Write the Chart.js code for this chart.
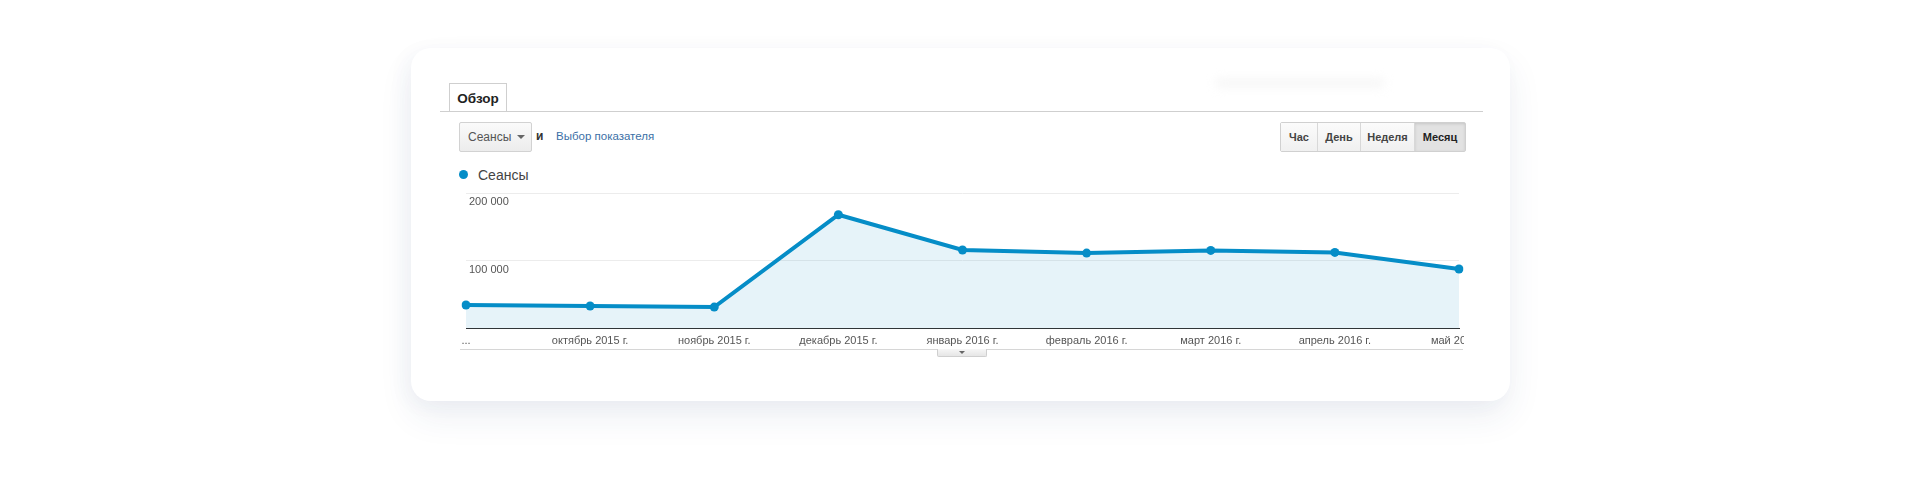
<!DOCTYPE html>
<html lang="ru">
<head>
<meta charset="UTF-8">
<title>Обзор | Сеансы</title>
<script src="https://cdn.jsdelivr.net/npm/chart.js"></script>
<style>
    body { margin: 0; background: #fff; font-family: "Liberation Sans", Arial, sans-serif; }
    .pagina { position: relative; width: 1920px; height: 477px; overflow: hidden; }
    .cartao {
        position: absolute; left: 411px; top: 48px; width: 1099px; height: 353px;
        background: #fff; border-radius: 20px;
        box-shadow: 0 16px 34px rgba(40, 70, 120, 0.08), -6px 4px 20px rgba(40, 70, 120, 0.04);
    }
    .mancha {
        position: absolute; left: 1215px; top: 78px; width: 170px; height: 10px;
        background: #f7f7f7; filter: blur(5px); border-radius: 6px;
    }
    .aba {
        position: absolute; left: 449px; top: 83px; width: 58px; height: 28px;
        border: 1px solid #cfcfcf; border-bottom: none; background: #fff;
        box-sizing: border-box; font-weight: bold; font-size: 13.5px; color: #222;
        text-align: center; line-height: 29px; z-index: 2;
    }
    .linha-aba { position: absolute; left: 440px; top: 111px; width: 1043px; height: 1px; background: #cfcfcf; }
    .dropdown {
        position: absolute; left: 459px; top: 122px; width: 73px; height: 30px; box-sizing: border-box;
        border: 1px solid #d2d2d2; border-radius: 2px;
        background: linear-gradient(#fafafa, #ececec);
        font-size: 12px; color: #555; line-height: 28px; padding-left: 8px;
    }
    .dropdown .seta {
        position: absolute; left: 57px; top: 12px; width: 0; height: 0;
        border-left: 4px solid transparent; border-right: 4px solid transparent; border-top: 4px solid #666;
    }
    .e { position: absolute; left: 536px; top: 129px; font-size: 12px; font-weight: bold; color: #333; }
    .escolha { position: absolute; left: 556px; top: 130px; font-size: 11.5px; color: #3b6fa6; }
    .botoes {
        position: absolute; left: 1280px; top: 122px; height: 30px; display: flex;
        border: 1px solid #d0d0d0; border-radius: 2px; box-sizing: border-box;
    }
    .botoes div {
        height: 28px; line-height: 28px; text-align: center; font-size: 11px; font-weight: bold; color: #444;
        background: linear-gradient(#fbfbfb, #f0f0f0); border-left: 1px solid #d8d8d8; box-sizing: border-box;
    }
    .botoes div:first-child { border-left: none; }
    .botoes div.ativo { background: #e2e2e2; color: #222; box-shadow: inset 0 1px 3px rgba(0,0,0,0.12); }
    .legenda { position: absolute; left: 459px; top: 167px; font-size: 14px; color: #444; line-height: 16px; }
    .legenda .ponto {
        display: inline-block; width: 9px; height: 9px; border-radius: 50%; background: #058dc7;
        margin-right: 10px; vertical-align: 1px;
    }
    #grafico { position: absolute; left: 446px; top: 185px; }
    .linha-base { position: absolute; left: 460px; top: 349px; width: 1003px; height: 1px; background: #d6d6d6; }
    .puxador {
        position: absolute; left: 937px; top: 349px; width: 50px; height: 8px; box-sizing: border-box;
        border: 1px solid #cfcfcf; border-top: none; border-radius: 0 0 2px 2px;
        background: linear-gradient(#f6f6f6, #e6e6e6);
    }
    .puxador .seta {
        position: absolute; left: 21px; top: 2px; width: 0; height: 0;
        border-left: 3px solid transparent; border-right: 3px solid transparent; border-top: 3px solid #666;
    }
</style>
</head>
<body>
<div class="pagina">
    <div class="cartao"></div>
    <div class="mancha"></div>
    <div class="linha-aba"></div>
    <div class="aba">Обзор</div>

    <div class="dropdown">Сеансы<span class="seta"></span></div>
    <div class="e">и</div>
    <div class="escolha">Выбор показателя</div>

    <div class="botoes">
        <div style="width:36px">Час</div>
        <div style="width:43px">День</div>
        <div style="width:54px">Неделя</div>
        <div style="width:51px" class="ativo">Месяц</div>
    </div>

    <div class="legenda"><span class="ponto"></span>Сеансы</div>

    <canvas id="grafico" width="1018" height="169"></canvas>

    <div class="linha-base"></div>
    <div class="puxador"><span class="seta"></span></div>
</div>

<script>
    // dados do gráfico
    const meses = ['...', 'октябрь 2015 г.', 'ноябрь 2015 г.', 'декабрь 2015 г.', 'январь 2016 г.',
        'февраль 2016 г.', 'март 2016 г.', 'апрель 2016 г.', 'май 2016 г.'];
    const seansy = [35000, 33500, 32000, 168000, 116000, 111500, 115500, 112500, 88000];
    const escalaY = [0, 100000, 200000];

    const azul = '#058dc7';

    function formatarNumero(v) {
        if (v === 0) return '';
        return String(v).replace(/\B(?=(\d{3})+(?!\d))/g, ' ');
    }

    const config = {
        type: 'line',
        data: {
            labels: meses,
            datasets: [{
                label: 'Сеансы',
                data: seansy,
                borderColor: azul,
                borderWidth: 4,
                backgroundColor: 'rgba(5, 141, 199, 0.1)',
                fill: 'origin',
                tension: 0,
                pointRadius: 4.5,
                pointBorderWidth: 0,
                pointBackgroundColor: azul
            }]
        },
        options: {
            responsive: false,
            animation: false,
            layout: { padding: { left: 20, right: 5, top: 8, bottom: 0 } },
            plugins: { legend: { display: false }, tooltip: { enabled: false } },
            scales: {
                x: {
                    offset: false,
                    grid: { display: false, drawTicks: false },
                    border: { display: true, color: '#333', width: 1 },
                    ticks: {
                        autoSkip: false, maxRotation: 0, padding: 6,
                        color: '#555', font: { family: '"Liberation Sans", Arial, sans-serif', size: 11 }
                    },
                    afterFit: function (scale) {
                        scale.paddingLeft = 0;
                        scale.paddingRight = 0;
                    }
                },
                y: {
                    min: escalaY[0],
                    max: escalaY[escalaY.length - 1],
                    grid: {
                        drawTicks: false,
                        color: function (ctx) { return ctx.tick && ctx.tick.value === 0 ? 'rgba(0,0,0,0)' : '#ececec'; }
                    },
                    border: { display: false },
                    ticks: {
                        stepSize: escalaY[1] - escalaY[0],
                        mirror: true, padding: 3, labelOffset: 9,
                        color: '#555', font: { family: '"Liberation Sans", Arial, sans-serif', size: 11 },
                        callback: function (v) { return formatarNumero(v); }
                    },
                    afterFit: function (scale) {
                        scale.width = 0;
                        scale.paddingTop = 0;
                        scale.paddingBottom = 0;
                    }
                }
            }
        }
    };

    let myChart = new Chart(document.getElementById('grafico'), config);
</script>
</body>
</html>
